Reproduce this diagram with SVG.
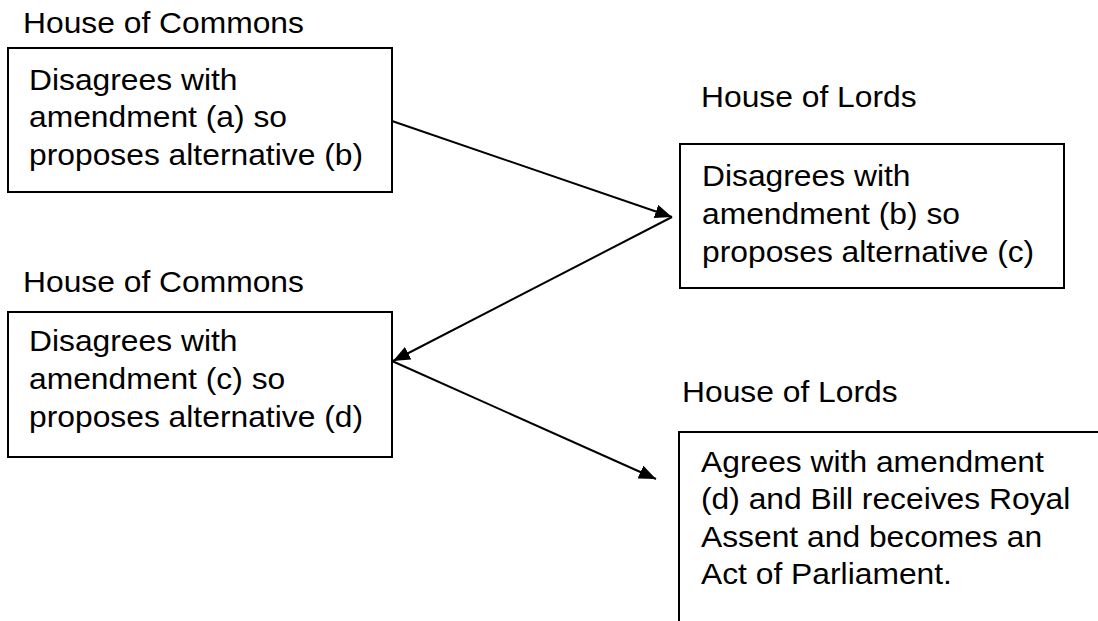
<svg xmlns="http://www.w3.org/2000/svg" width="1098" height="621" viewBox="0 0 1098 621">
<style>
text{font-family:"Liberation Sans",Arial,sans-serif;font-size:30px;fill:#000}
.box{fill:#fff;stroke:#000;stroke-width:2}
.conn{stroke:#000;stroke-width:2;fill:none;marker-end:url(#arr)}
</style>
<defs>
<marker id="arr" markerUnits="userSpaceOnUse" markerWidth="18" markerHeight="14" refX="17" refY="7" orient="auto">
<path d="M0,0 L17,7 L0,14 Z" fill="#000"/>
</marker>
</defs>
<rect width="1098" height="621" fill="#fff"/>
<g id="n1">
<text transform="translate(23,33) scale(1.06,1)">House of Commons</text>
<rect class="box" x="8" y="48" width="384" height="144"/>
<text transform="translate(29,89.5) scale(1.06,1)"><tspan x="0" y="0">Disagrees with</tspan><tspan x="0" y="38">amendment (a) so</tspan><tspan x="0" y="76">proposes alternative (b)</tspan></text>
</g>
<g id="n2">
<text transform="translate(701,107) scale(1.06,1)">House of Lords</text>
<rect class="box" x="680" y="144" width="384" height="144"/>
<text transform="translate(702,186) scale(1.06,1)"><tspan x="0" y="0">Disagrees with</tspan><tspan x="0" y="38">amendment (b) so</tspan><tspan x="0" y="76">proposes alternative (c)</tspan></text>
</g>
<g id="n3">
<text transform="translate(23,292) scale(1.06,1)">House of Commons</text>
<rect class="box" x="8" y="312" width="384" height="145"/>
<text transform="translate(29,351) scale(1.06,1)"><tspan x="0" y="0">Disagrees with</tspan><tspan x="0" y="38">amendment (c) so</tspan><tspan x="0" y="76">proposes alternative (d)</tspan></text>
</g>
<g id="n4">
<text transform="translate(682,402) scale(1.06,1)">House of Lords</text>
<rect class="box" x="679" y="432" width="440" height="220"/>
<text transform="translate(701,472) scale(1.06,1)"><tspan x="0" y="0">Agrees with amendment</tspan><tspan x="0" y="37.5">(d) and Bill receives Royal</tspan><tspan x="0" y="75">Assent and becomes an</tspan><tspan x="0" y="112.5">Act of Parliament.</tspan></text>
</g>
<g id="connectors">
<line class="conn" x1="392" y1="121" x2="672" y2="217"/>
<line class="conn" x1="672" y1="217" x2="393" y2="361"/>
<line class="conn" x1="392" y1="361" x2="656" y2="479"/>
</g>
</svg>
